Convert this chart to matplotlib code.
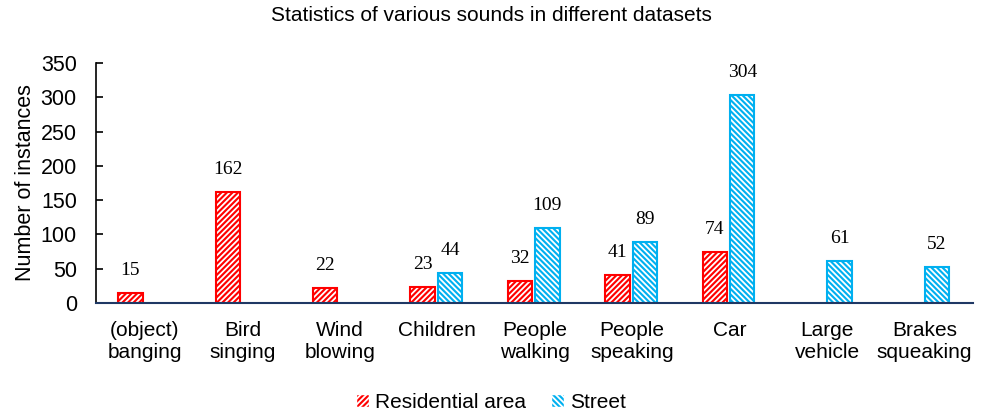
import numpy as np
import matplotlib
matplotlib.use("Agg")
import matplotlib.pyplot as plt
from matplotlib.patches import Patch

categories = ["(object)\nbanging", "Bird\nsinging", "Wind\nblowing", "Children",
              "People\nwalking", "People\nspeaking", "Car", "Large\nvehicle",
              "Brakes\nsqueaking"]
residential = [15, 162, 22, 23, 32, 41, 74, np.nan, np.nan]
street = [np.nan, np.nan, np.nan, 44, 109, 89, 304, 61, 52]
series_names = ["Residential area", "Street"]

red = "#FF0000"
blue = "#00B0F0"

plt.rcParams["font.family"] = ["Liberation Sans", "DejaVu Sans"]
plt.rcParams["hatch.linewidth"] = 1.3

fig = plt.figure(figsize=(9.82, 4.12), dpi=100)
ax = fig.add_axes([0.098, 0.265, 0.893, 0.582])

x = np.arange(len(categories))
width = 0.25
offsets = [-0.15, 0.13]


def hatched_bars(xpos, vals, color, hatch):
    vals = np.asarray(vals, dtype=float)
    ok = ~np.isnan(vals)
    # white stripes over a coloured fill, then a coloured outline on top
    ax.bar(xpos[ok], vals[ok], width, facecolor=color, edgecolor="white",
           hatch=hatch, linewidth=0, zorder=2)
    ax.bar(xpos[ok], vals[ok], width, fill=False, edgecolor=color,
           linewidth=1.5, zorder=3)
    for xi, v in zip(xpos[ok], vals[ok]):
        ax.annotate(f"{int(v)}", (xi, v), xytext=(0, 10), textcoords="offset points",
                    ha="center", va="bottom", fontsize=14,
                    family="Liberation Serif")


hatched_bars(x + offsets[0], residential, red, "//////")
hatched_bars(x + offsets[1], street, blue, "\\\\\\\\\\\\")

ax.set_xlim(-0.5, len(categories) - 0.5)
ax.set_ylim(0, 350)
ax.set_yticks(np.arange(0, 351, 50))
ax.tick_params(axis="y", direction="in", length=5, labelsize=15.5, width=1.2, pad=14)
ax.set_xticks(x)
ax.set_xticklabels(categories, fontsize=15)
ax.tick_params(axis="x", length=0, pad=13)

for s in ["top", "right"]:
    ax.spines[s].set_visible(False)
ax.spines["left"].set_linewidth(1.2)
ax.spines["bottom"].set_color("#1F3864")
ax.spines["bottom"].set_linewidth(1.5)
ax.spines["bottom"].set_zorder(4)

ax.set_ylabel("Number of instances", fontsize=15.5, labelpad=3)
fig.suptitle("Statistics of various sounds in different datasets", fontsize=15, y=0.985)

handles = [Patch(facecolor=red, edgecolor="white", hatch="//////", label=series_names[0]),
           Patch(facecolor=blue, edgecolor="white", hatch="\\\\\\\\\\\\", label=series_names[1])]
fig.legend(handles=handles, loc="lower center", bbox_to_anchor=(0.5, -0.045), ncol=2,
           frameon=False, fontsize=15, handlelength=0.6, handleheight=0.6,
           handletextpad=0.3, columnspacing=1.2)

fig.savefig("out.png", dpi=100)
